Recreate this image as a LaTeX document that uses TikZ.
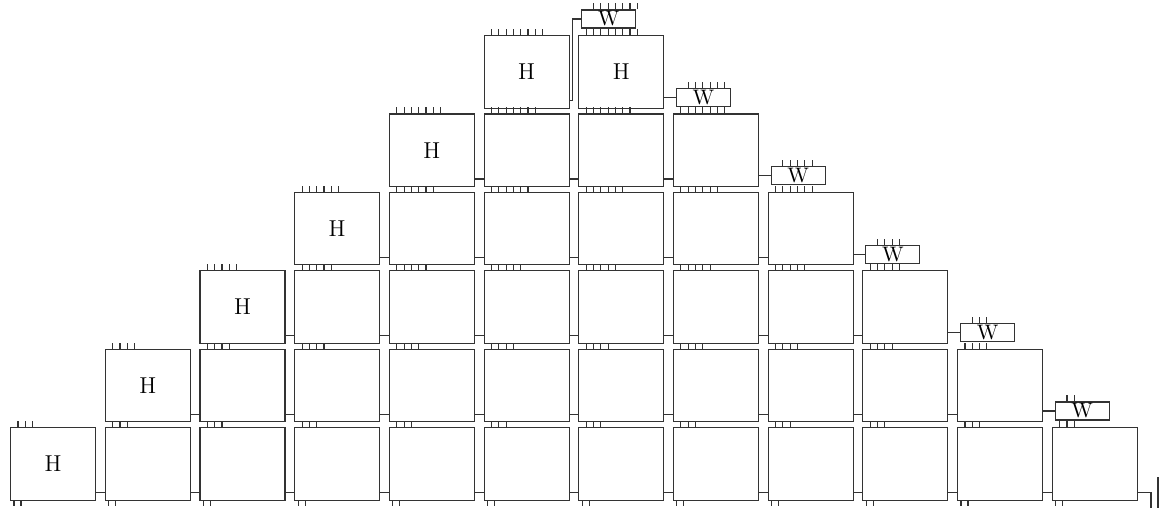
\documentclass[tikz,border=0pt]{standalone}
\begin{document}
\begin{tikzpicture}[x=0.5pt, y=-0.5pt, line width=0.55pt,
  cell/.style={draw=black!80, minimum width=42.5pt, minimum height=36.25pt, inner sep=0pt, anchor=north west, font=\fontsize{11.5}{13}\selectfont},
  wbox/.style={draw=black!80, minimum width=27pt, minimum height=9pt, inner sep=0pt, anchor=west, font=\fontsize{10.5}{11}\selectfont},
  wire/.style={draw=black!80}]
\useasboundingbox (0,0) rectangle (1170,508);

% cells, row b counted from the bottom
\foreach \b in {0,...,5} {
  \pgfmathsetmacro\ytop{427-78.4*\b}
  \pgfmathtruncatemacro\last{11-\b}
  \foreach \c in {\b,...,\last} {
    \pgfmathtruncatemacro\ish{(\c==\b)||(\b==5)}
    \node[cell] (p-\b-\c) at ({10+94.7*\c},\ytop) {\ifnum\ish=1 H\fi};
  }
  \node[wbox] (w-\b) at ({13+94.7*\last},{\ytop-16}) {W};
}

% pins between the rows
\foreach \b in {0,...,5} {
  \pgfmathtruncatemacro\last{11-\b}
  \pgfmathtruncatemacro\n{\b+2}
  \foreach \c in {\b,...,\last}
    \foreach \k in {0,...,\n}
      \draw[wire] ([xshift={4pt+3.65pt*\k}]p-\b-\c.north west) -- ++(0,-6);
  \foreach \k in {1,...,\n}
    \draw[wire] ([xshift={2.5pt+3.65pt*\k}]w-\b.north west) -- ++(0,-6);
}
\foreach \c in {0,...,11}
  \foreach \d in {2pt,5.5pt}
    \draw[wire] ([xshift=\d]p-0-\c.south west) -- ++(0,5);

% links along each row
\foreach \b in {0,...,4} {
  \pgfmathtruncatemacro\stop{10-\b}
  \foreach \c in {\b,...,\stop} {
    \pgfmathtruncatemacro\nx{\c+1}
    \draw[wire] ([yshift=4pt]p-\b-\c.south east) -- ([yshift=4pt]p-\b-\nx.south west);
  }
}
\foreach \b in {1,...,5} {
  \pgfmathtruncatemacro\last{11-\b}
  \pgfmathtruncatemacro\bm{\b-1}
  \draw[wire] (p-\b-\last.east |- w-\bm.west) -- (w-\bm.west);
}
\draw[wire] ([yshift=4pt]p-5-5.south east) -- ++(3,0) |- (w-5.west);

% output
\coordinate (out) at (1151,508);
\draw[wire] ([yshift=4pt]p-0-11.south east) -| (out);
\coordinate (tapa) at (1158,477);
\coordinate (tapb) at (1158,508);
\draw[wire] (tapa) -- (tapb);
\end{tikzpicture}
\end{document}
